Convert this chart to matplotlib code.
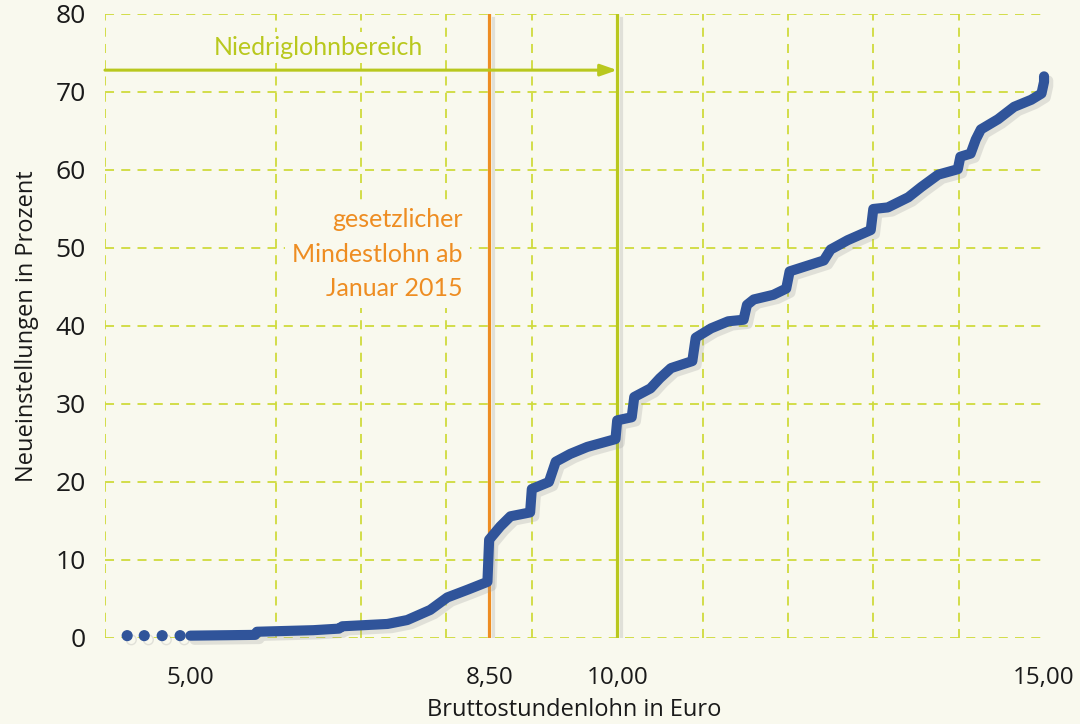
import matplotlib
matplotlib.use("Agg")
import matplotlib.pyplot as plt
import matplotlib.patheffects as pe
from matplotlib.ticker import FixedLocator, MultipleLocator

# --- Daten ---
# einzelne Punkte unter 5 Euro
dots_x = [4.26, 4.46, 4.67, 4.88]
dots_y = [0.3, 0.3, 0.3, 0.3]

# kumulierter Anteil der Neueinstellungen nach Bruttostundenlohn
wage = [5.00, 5.76, 5.78, 6.44, 6.74, 6.78, 7.31, 7.54, 7.81, 8.01, 8.25, 8.48,
        8.50, 8.63, 8.75, 8.98, 9.00, 9.20, 9.28, 9.45, 9.65, 9.98, 10.00, 10.17,
        10.20, 10.39, 10.50, 10.63, 10.88, 10.92, 11.10, 11.30, 11.48, 11.52, 11.60,
        11.83, 11.98, 12.02, 12.42, 12.50, 12.70, 12.97, 13.00, 13.17, 13.41, 13.56,
        13.76, 13.99, 14.02, 14.14, 14.20, 14.26, 14.46, 14.65, 14.85, 14.97, 15.00,
        15.00]
share = [0.3, 0.4, 0.8, 1.0, 1.2, 1.5, 1.8, 2.3, 3.6, 5.2, 6.2, 7.2,
         12.6, 14.3, 15.6, 16.1, 19.1, 20.0, 22.6, 23.6, 24.5, 25.5, 27.9, 28.3,
         30.9, 32.0, 33.3, 34.6, 35.5, 38.5, 39.7, 40.6, 40.8, 42.7, 43.4,
         44.0, 44.8, 47.0, 48.4, 49.8, 51.0, 52.3, 55.0, 55.2, 56.5, 57.8,
         59.4, 60.1, 61.7, 62.1, 63.9, 65.2, 66.5, 68.1, 69.0, 69.8, 71.3,
         72.0]

xtick_pos = [5.0, 8.5, 10.0, 15.0]
xtick_labels = ["5,00", "8,50", "10,00", "15,00"]

mindestlohn = 8.5
niedriglohn_grenze = 10.0

# --- Farben ---
bg = "#f9f9ee"
grid_col = "#cfdb3c"
green = "#b9c81e"
orange = "#ee8d22"
blue = "#30549a"

plt.rcParams['font.family'] = ['Open Sans', 'DejaVu Sans']

fig = plt.figure(figsize=(10.8, 7.24), dpi=100, facecolor=bg)
ax = fig.add_axes([0.0972, 0.1188, 0.8695, 0.8619], facecolor=bg)

ax.set_xlim(4, 15)
ax.set_ylim(0, 80)

# Gitter: senkrecht bei jedem Euro, waagerecht alle 10 Prozent
ax.xaxis.set_minor_locator(MultipleLocator(1))
ax.xaxis.set_major_locator(FixedLocator(xtick_pos))
ax.set_xticklabels(xtick_labels)
ax.yaxis.set_major_locator(MultipleLocator(10))
ax.grid(which='minor', axis='x', color=grid_col, linestyle=(0, (5, 4)), linewidth=1.3)
ax.grid(which='major', axis='y', color=grid_col, linestyle=(0, (5, 4)), linewidth=1.3)
ax.set_axisbelow(True)
for s in ax.spines.values():
    s.set_visible(False)
ax.tick_params(which='both', length=0)
ax.tick_params(axis='x', pad=20, labelsize=17.5, colors='#1a1a1a')
ax.tick_params(axis='y', pad=14, labelsize=19, colors='#1a1a1a')

shadow = [pe.SimpleLineShadow(offset=(3, -3), shadow_color='#999999', alpha=0.25), pe.Normal()]

# senkrechte Linien
ax.axvline(mindestlohn, color=orange, linewidth=2.3, path_effects=shadow, zorder=3)
ax.axvline(niedriglohn_grenze, color=green, linewidth=2.3, path_effects=shadow, zorder=3)

# Pfeil Niedriglohnbereich
ax.annotate("", xy=(niedriglohn_grenze, 72.8), xytext=(4.0, 72.8),
            arrowprops=dict(arrowstyle='-|>,head_length=1.0,head_width=0.35',
                            color=green, linewidth=2.2, shrinkA=0, shrinkB=0),
            annotation_clip=False, zorder=3)

# Texte mit Hintergrundkasten, damit das Gitter dahinter verschwindet
box = dict(boxstyle='square,pad=0.15', facecolor=bg, edgecolor='none')
ax.text(6.5, 75.7, "Niedriglohnbereich", color=green, fontsize=18,
        family=['Lato', 'DejaVu Sans'], ha='center', va='center', bbox=box, zorder=2)

ax.text(8.19, 49.2, "gesetzlicher\nMindestlohn ab\nJanuar 2015", color=orange,
        fontsize=18, family=['Lato', 'DejaVu Sans'], ha='right', va='center',
        linespacing=1.6, bbox=dict(boxstyle='square,pad=0.3', facecolor=bg, edgecolor='none'),
        zorder=2)

# Kurve
ax.plot(dots_x, dots_y, 'o', color=blue, markersize=7, zorder=4, clip_on=False,
        path_effects=shadow)
ax.plot(wage, share, '-', color=blue, linewidth=7.3, solid_capstyle='round',
        solid_joinstyle='round', zorder=4, clip_on=False, path_effects=shadow)

ax.set_xlabel("Bruttostundenlohn in Euro", fontsize=17, color='#1a1a1a', labelpad=6)
ax.set_ylabel("Neueinstellungen in Prozent", fontsize=17, color='#1a1a1a', labelpad=12)

fig.savefig("out.png", dpi=100, facecolor=bg)
